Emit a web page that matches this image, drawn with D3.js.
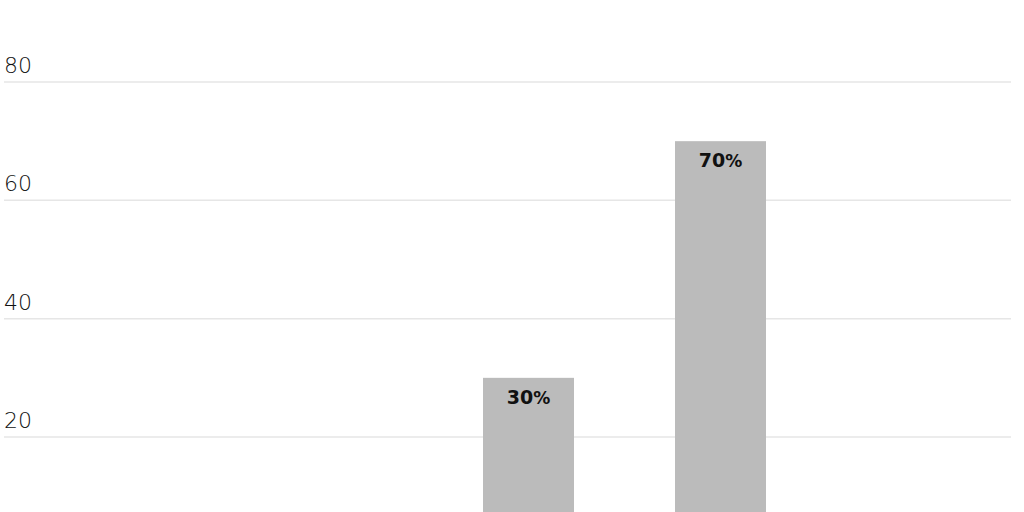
<!DOCTYPE html>
<html><head><meta charset="utf-8">
<script src="https://cdn.jsdelivr.net/npm/d3@7"></script>
<style>html,body{margin:0;padding:0;background:#fff;overflow:hidden}</style>
</head><body>
<svg id="c" width="1024" height="512"></svg>
<script>
const categories = ["A", "B"];
const values = [30, 70];
const yTicks = [20, 40, 60, 80];

const svg = d3.select("#c");

const y = d3.scaleLinear().domain([0, 80]).range([555.33, 82]);
const x = d3.scaleBand().domain(categories).range([382, 867]).paddingInner(0.526).paddingOuter(0.526);

const grid = svg.append("g");
grid.selectAll("line").data(yTicks).join("line")
  .attr("x1", 4).attr("x2", 1011)
  .attr("y1", d => y(d)).attr("y2", d => y(d))
  .attr("stroke", "#e6e6e6").attr("stroke-width", 1.5);
grid.selectAll("text").data(yTicks).join("text")
  .attr("x", 4).attr("y", d => y(d) - 9)
  .attr("font-family", "'DejaVu Sans', sans-serif").attr("font-weight", 200)
  .attr("font-size", 22).attr("fill", "#111")
  .text(d => d);

const bars = svg.append("g");
bars.selectAll("rect").data(values).join("rect")
  .attr("x", (d, i) => x(categories[i]))
  .attr("width", x.bandwidth())
  .attr("y", d => y(d))
  .attr("height", d => y(0) - y(d))
  .attr("fill", "#bbbbbb");

const lbl = bars.selectAll("text").data(values).join("text")
  .attr("x", (d, i) => x(categories[i]) + x.bandwidth() / 2)
  .attr("y", d => y(d) + 26)
  .attr("text-anchor", "middle")
  .attr("font-family", "'DejaVu Sans', sans-serif").attr("fill", "#111");
lbl.append("tspan").attr("font-size", 19).attr("font-weight", "bold").text(d => d);
lbl.append("tspan").attr("font-size", 17).attr("font-weight", 600).text("%");
</script>
</body></html>
